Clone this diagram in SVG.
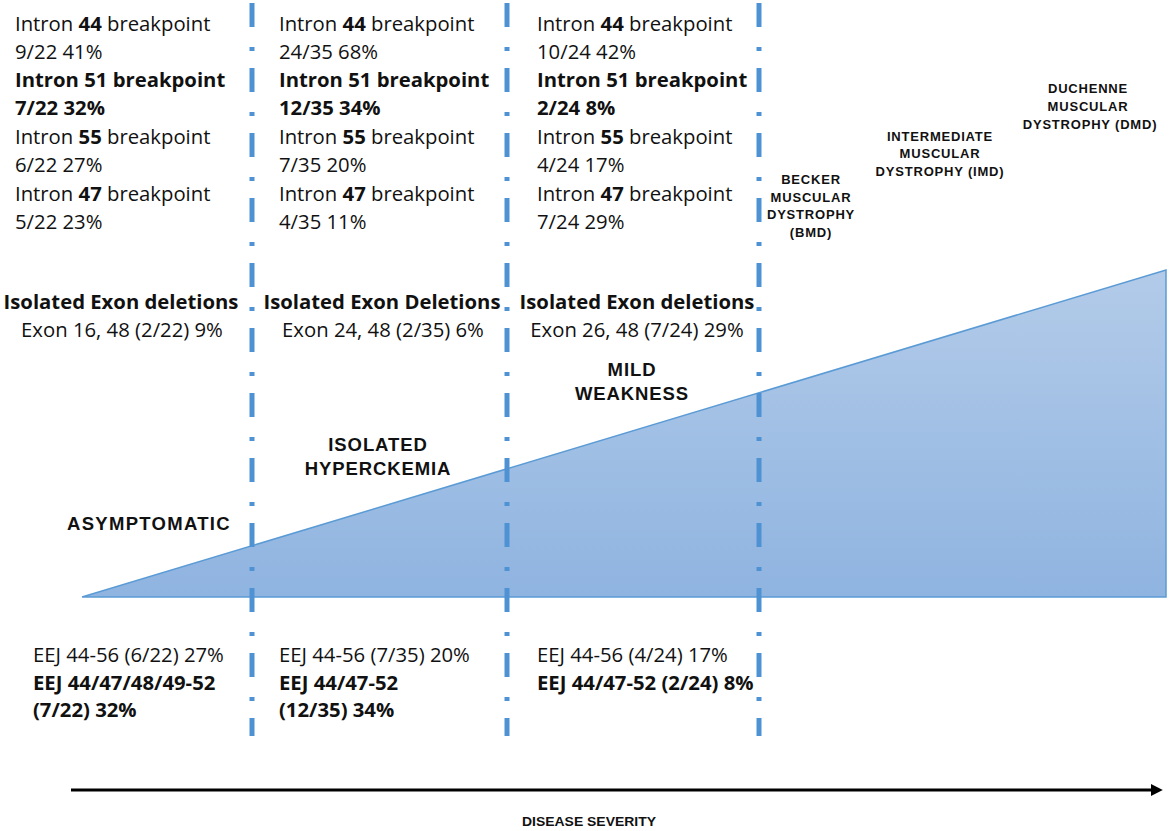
<svg xmlns="http://www.w3.org/2000/svg" width="1170" height="831" viewBox="0 0 1170 831">
<defs>
<linearGradient id="triGrad" x1="0" y1="0" x2="0" y2="1">
<stop offset="0" stop-color="#b3cbe9"/>
<stop offset="1" stop-color="#8fb4e0"/>
</linearGradient>
<marker id="arrowHead" viewBox="0 0 10 10" refX="6" refY="5" markerWidth="4" markerHeight="4" orient="auto" markerUnits="strokeWidth">
<path d="M0,0 L10,5 L0,10 z" fill="#000"/>
</marker>
</defs>
<style>
.t{font-family:"Open Sans","Noto Sans",sans-serif;font-size:20.3px;fill:#111;}
.b{font-weight:bold;}
.cap{font-family:"Liberation Sans",Arial,sans-serif;font-weight:bold;font-size:18.5px;fill:#111;letter-spacing:0.9px;text-anchor:middle;}
.sm{font-family:"Liberation Sans",Arial,sans-serif;font-weight:bold;font-size:13px;fill:#111;letter-spacing:0.8px;text-anchor:middle;}
.mid{text-anchor:middle;}
.div{stroke:#4f92d4;stroke-width:5;stroke-dasharray:24 20 4 17;fill:none;}
</style>
<rect width="1170" height="831" fill="#fff"/>
<g id="severity-wedge">
<polygon points="82,597 1166,270 1166,597" fill="url(#triGrad)" stroke="#5b9bd5" stroke-width="1.5"/>
</g>
<g id="dividers">
<line class="div" x1="252" y1="3" x2="252" y2="736"/>
<line class="div" x1="507" y1="3" x2="507" y2="736"/>
<line class="div" x1="759" y1="3" x2="759" y2="736"/>
</g>
<g id="col1-breakpoints" class="t">
<text x="15" y="31">Intron <tspan class="b">44</tspan> breakpoint</text>
<text x="15" y="59">9/22 41%</text>
<text x="15" y="87" class="b">Intron 51 breakpoint</text>
<text x="15" y="115" class="b">7/22 32%</text>
<text x="15" y="144">Intron <tspan class="b">55</tspan> breakpoint</text>
<text x="15" y="172">6/22 27%</text>
<text x="15" y="201">Intron <tspan class="b">47</tspan> breakpoint</text>
<text x="15" y="229">5/22 23%</text>
</g>
<g id="col2-breakpoints" class="t">
<text x="279" y="31">Intron <tspan class="b">44</tspan> breakpoint</text>
<text x="279" y="59">24/35 68%</text>
<text x="279" y="87" class="b">Intron 51 breakpoint</text>
<text x="279" y="115" class="b">12/35 34%</text>
<text x="279" y="144">Intron <tspan class="b">55</tspan> breakpoint</text>
<text x="279" y="172">7/35 20%</text>
<text x="279" y="201">Intron <tspan class="b">47</tspan> breakpoint</text>
<text x="279" y="229">4/35 11%</text>
</g>
<g id="col3-breakpoints" class="t">
<text x="537" y="31">Intron <tspan class="b">44</tspan> breakpoint</text>
<text x="537" y="59">10/24 42%</text>
<text x="537" y="87" class="b">Intron 51 breakpoint</text>
<text x="537" y="115" class="b">2/24 8%</text>
<text x="537" y="144">Intron <tspan class="b">55</tspan> breakpoint</text>
<text x="537" y="172">4/24 17%</text>
<text x="537" y="201">Intron <tspan class="b">47</tspan> breakpoint</text>
<text x="537" y="229">7/24 29%</text>
</g>
<g id="col1-exon" class="t mid">
<text x="121" y="309" class="b">Isolated Exon deletions</text>
<text x="122" y="337">Exon 16, 48 (2/22) 9%</text>
</g>
<g id="col2-exon" class="t mid">
<text x="382" y="309" class="b">Isolated Exon Deletions</text>
<text x="383" y="337">Exon 24, 48 (2/35) 6%</text>
</g>
<g id="col3-exon" class="t mid">
<text x="637" y="309" class="b">Isolated Exon deletions</text>
<text x="637" y="337">Exon 26, 48 (7/24) 29%</text>
</g>
<g id="label-asymptomatic">
<text class="cap" x="149" y="530" style="letter-spacing:1.3px">ASYMPTOMATIC</text>
</g>
<g id="label-hyperckemia">
<text class="cap" x="378" y="451">ISOLATED</text>
<text class="cap" x="378" y="475">HYPERCKEMIA</text>
</g>
<g id="label-mild">
<text class="cap" x="632" y="376">MILD</text>
<text class="cap" x="632" y="400">WEAKNESS</text>
</g>
<g id="label-bmd">
<text class="sm" x="811" y="184">BECKER</text>
<text class="sm" x="811" y="202">MUSCULAR</text>
<text class="sm" x="811" y="219">DYSTROPHY</text>
<text class="sm" x="811" y="237">(BMD)</text>
</g>
<g id="label-imd">
<text class="sm" x="940" y="141">INTERMEDIATE</text>
<text class="sm" x="940" y="158">MUSCULAR</text>
<text class="sm" x="940" y="176">DYSTROPHY (IMD)</text>
</g>
<g id="label-dmd">
<text class="sm" x="1088" y="93">DUCHENNE</text>
<text class="sm" x="1088" y="111">MUSCULAR</text>
<text class="sm" x="1090" y="129">DYSTROPHY (DMD)</text>
</g>
<g id="col1-eej" class="t">
<text x="33" y="662">EEJ 44-56 (6/22) 27%</text>
<text x="33" y="690" class="b">EEJ 44/47/48/49-52</text>
<text x="33" y="717" class="b">(7/22) 32%</text>
</g>
<g id="col2-eej" class="t">
<text x="279" y="662">EEJ 44-56 (7/35) 20%</text>
<text x="279" y="690" class="b">EEJ 44/47-52</text>
<text x="279" y="717" class="b">(12/35) 34%</text>
</g>
<g id="col3-eej" class="t">
<text x="537" y="662">EEJ 44-56 (4/24) 17%</text>
<text x="537" y="690" class="b">EEJ 44/47-52 (2/24) 8%</text>
</g>
<g id="connectors">
<line x1="71" y1="790" x2="1158" y2="790" stroke="#000" stroke-width="3" marker-end="url(#arrowHead)"/>
</g>
<g id="axis-label">
<text x="589" y="826" text-anchor="middle" font-family="'Liberation Sans',Arial,sans-serif" font-weight="bold" font-size="13" fill="#111" textLength="134" lengthAdjust="spacingAndGlyphs">DISEASE SEVERITY</text>
</g>
</svg>
